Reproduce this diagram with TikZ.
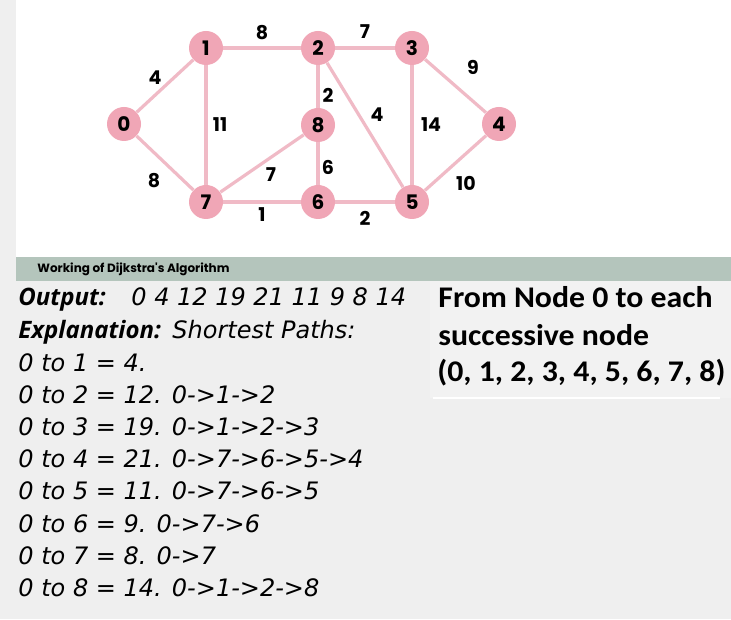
\documentclass[tikz,border=0pt]{standalone}
\usepackage{fontspec}
\newfontfamily\pop{Poppins}
\newfontfamily\osans{Open Sans}
\newfontfamily\dvsans{DejaVu Sans}
\newfontfamily\calib{Carlito}[FakeStretch=1.06]
\definecolor{bggray}{RGB}{239,239,239}
\definecolor{boxgray}{RGB}{242,242,242}
\definecolor{banner}{RGB}{180,197,188}
\definecolor{nodepink}{RGB}{240,166,182}
\definecolor{edgepink}{RGB}{240,186,198}
\begin{document}
\begin{tikzpicture}[x=0.5pt,y=-0.5pt,
  vert/.style={circle,fill=nodepink,minimum size=17pt,inner sep=0pt,font=\pop\bfseries\fontsize{10}{11}\selectfont},
  wt/.style={inner sep=0pt,font=\pop\bfseries\fontsize{9.5}{10}\selectfont},
  edge/.style={draw=edgepink,line width=1.6pt},
  btxt/.style={anchor=base west,inner sep=0pt,font=\osans\bfseries\itshape\fontsize{12}{14}\selectfont},
  txt/.style={anchor=base west,inner sep=0pt,font=\dvsans\itshape\fontsize{12}{14}\selectfont},
  rtxt/.style={anchor=base west,inner sep=0pt,font=\calib\bfseries\fontsize{15}{17}\selectfont}]
\useasboundingbox (0,0) rectangle (731,619);
\fill[bggray] (0,0) rectangle (731,619);
\fill[white] (16,0) rectangle (731,257);
\fill[banner] (16,257) rectangle (731,281);
\fill[boxgray] (430,281) rectangle (731,398);
\draw[white,line width=0.6pt] (433,398) -- (720,398);

% graph
\node[vert] (n0) at (124,124) {0};
\node[vert] (n1) at (206,48) {1};
\node[vert] (n2) at (318,48) {2};
\node[vert] (n3) at (412,48) {3};
\node[vert] (n4) at (499,124) {4};
\node[vert] (n5) at (412,202) {5};
\node[vert] (n6) at (318,202) {6};
\node[vert] (n7) at (206,202) {7};
\node[vert] (n8) at (318,125) {8};

\draw[edge] (n0) -- (n1);
\draw[edge] (n0) -- (n7);
\draw[edge] (n1) -- (n2);
\draw[edge] (n1) -- (n7);
\draw[edge] (n2) -- (n3);
\draw[edge] (n2) -- (n8);
\draw[edge] (n2) -- (n5);
\draw[edge] (n3) -- (n4);
\draw[edge] (n3) -- (n5);
\draw[edge] (n4) -- (n5);
\draw[edge] (n5) -- (n6);
\draw[edge] (n6) -- (n7);
\draw[edge] (n6) -- (n8);
\draw[edge] (n7) -- (n8);

\node[wt] (w01) at (155,78) {4};
\node[wt] (w07) at (154,181) {8};
\node[wt] (w12) at (262,33) {8};
\node[wt] (w17) at (220,125) {11};
\node[wt] (w23) at (365,32) {7};
\node[wt] (w28) at (328,95) {2};
\node[wt] (w25) at (377,115) {4};
\node[wt] (w78) at (271,175) {7};
\node[wt] (w68) at (328,167) {6};
\node[wt] (w34) at (473,67) {9};
\node[wt] (w35) at (431,125) {14};
\node[wt] (w45) at (466,183) {10};
\node[wt] (w67) at (262,215) {1};
\node[wt] (w56) at (365,218) {2};

% caption bar
\node[anchor=west,inner sep=0pt,font=\pop\bfseries\fontsize{6}{7}\selectfont] (cap) at (37,269) {Working of Dijkstra's Algorithm};

% output text
\node[btxt] (out) at (18,306) {Output:};
\node[txt] (outv) at (131,306) {0 4 12 19 21 11 9 8 14};
\node[btxt] (expl) at (18,338) {Explanation:};
\node[txt] (explv) at (172,338) {Shortest Paths:};
\node[txt] (p1) at (18,371) {0 to 1 = 4.};
\node[txt] (p2) at (18,403) {0 to 2 = 12. 0->1->2};
\node[txt] (p3) at (18,435) {0 to 3 = 19. 0->1->2->3};
\node[txt] (p4) at (18,467) {0 to 4 = 21. 0->7->6->5->4};
\node[txt] (p5) at (18,499) {0 to 5 = 11. 0->7->6->5};
\node[txt] (p6) at (18,532) {0 to 6 = 9. 0->7->6};
\node[txt] (p7) at (18,564) {0 to 7 = 8. 0->7};
\node[txt] (p8) at (18,596) {0 to 8 = 14. 0->1->2->8};

\node[rtxt] (r1) at (438,307) {From Node 0 to each};
\node[rtxt] (r2) at (438,345) {successive node};
\node[rtxt] (r3) at (437,381) {(0, 1, 2, 3, 4, 5, 6, 7, 8)};
\end{tikzpicture}
\end{document}
